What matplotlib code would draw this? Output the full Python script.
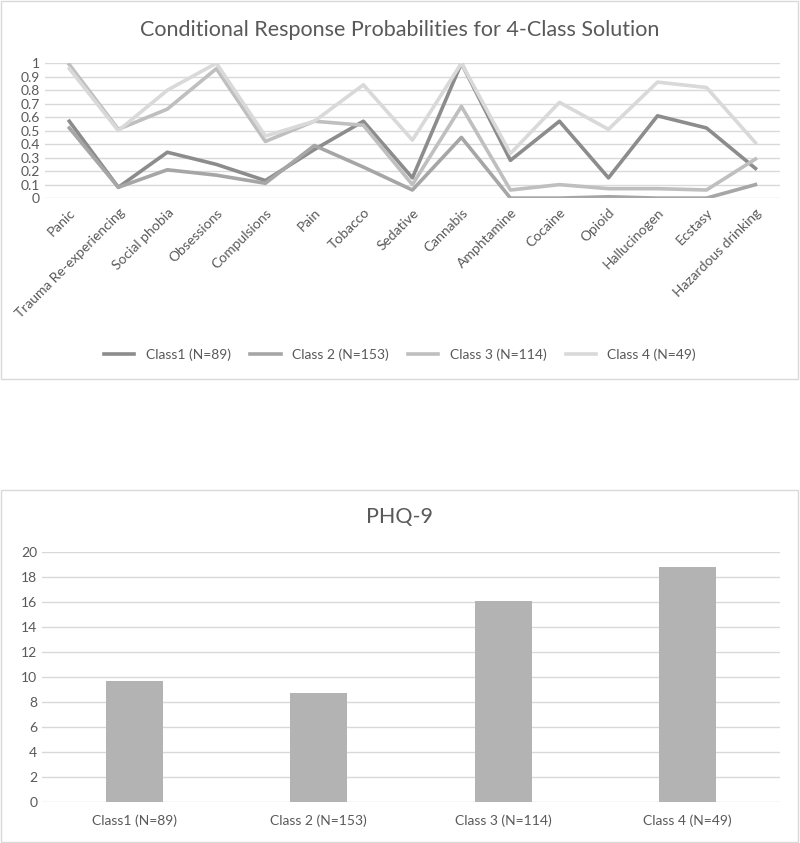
import matplotlib
matplotlib.use("Agg")
import matplotlib.pyplot as plt
from matplotlib.patches import Rectangle

plt.rcParams['font.family'] = ['Lato', 'DejaVu Sans']

items = ['Panic', 'Trauma Re-experiencing', 'Social phobia', 'Obsessions', 'Compulsions',
         'Pain', 'Tobacco', 'Sedative', 'Cannabis', 'Amphtamine', 'Cocaine', 'Opioid',
         'Hallucinogen', 'Ecstasy', 'Hazardous drinking']

class_names = ['Class1 (N=89)', 'Class 2 (N=153)', 'Class 3 (N=114)', 'Class 4 (N=49)']

class1 = [0.57, 0.08, 0.34, 0.25, 0.13, 0.36, 0.57, 0.15, 1.00, 0.28, 0.57, 0.15, 0.61, 0.52, 0.22]
class2 = [0.52, 0.08, 0.21, 0.17, 0.11, 0.39, 0.23, 0.06, 0.45, 0.00, 0.00, 0.01, 0.00, 0.00, 0.10]
class3 = [0.99, 0.51, 0.66, 0.96, 0.42, 0.57, 0.54, 0.10, 0.68, 0.06, 0.10, 0.07, 0.07, 0.06, 0.29]
class4 = [0.96, 0.50, 0.80, 1.00, 0.46, 0.57, 0.84, 0.43, 1.00, 0.33, 0.71, 0.51, 0.86, 0.82, 0.41]

phq9 = [9.7, 8.7, 16.1, 18.8]

line_colors = ['#8c8c8c', '#a6a6a6', '#bfbfbf', '#d9d9d9']
text_col = '#595959'
grid_col = '#d9d9d9'

fig = plt.figure(figsize=(8, 8.43), dpi=100)

# chart frames
fig.patches.append(Rectangle((0.001, 1 - 379 / 843), 0.997, 378 / 843, transform=fig.transFigure,
                             fill=False, edgecolor='#d9d9d9', lw=1))
fig.patches.append(Rectangle((0.001, 0.001), 0.997, 352 / 843, transform=fig.transFigure,
                             fill=False, edgecolor='#d9d9d9', lw=1))

# ---- line chart ----
ax1 = fig.add_axes([0.056, 0.765, 0.919, 0.160])
x = range(len(items))
for vals, name, col in zip([class1, class2, class3, class4], class_names, line_colors):
    ax1.plot(x, vals, color=col, lw=2.6, label=name)
ax1.set_xlim(-0.5, len(items) - 0.5)
ax1.set_ylim(0, 1)
ax1.set_yticks([i / 10 for i in range(11)])
ax1.set_yticklabels(['0', '0.1', '0.2', '0.3', '0.4', '0.5', '0.6', '0.7', '0.8', '0.9', '1'])
ax1.set_xticks(list(x))
ax1.set_xticklabels(items, rotation=45, ha='right', rotation_mode='anchor')
ax1.grid(axis='y', color=grid_col, lw=1)
ax1.set_axisbelow(True)
for s in ax1.spines.values():
    s.set_visible(False)
ax1.tick_params(length=0, colors=text_col, labelsize=10)
ax1.tick_params(axis='x', pad=6)
fig.text(0.5, 0.964, 'Conditional Response Probabilities for 4-Class Solution',
         ha='center', va='center', fontsize=15.5, color=text_col)
fig.legend(loc='center', bbox_to_anchor=(0.5, 1 - 355 / 843), ncol=4, frameon=False,
           fontsize=10, handlelength=2.2, columnspacing=1.4, labelcolor=text_col)

# ---- bar chart ----
ax2 = fig.add_axes([0.0525, 0.0486, 0.9225, 0.2964])
ax2.bar(range(len(class_names)), phq9, width=0.31, color='#b3b3b3')
ax2.set_xlim(-0.5, len(class_names) - 0.5)
ax2.set_ylim(0, 20)
ax2.set_yticks(range(0, 21, 2))
ax2.set_xticks(range(len(class_names)))
ax2.set_xticklabels(class_names)
ax2.grid(axis='y', color=grid_col, lw=1)
ax2.set_axisbelow(True)
for s in ax2.spines.values():
    s.set_visible(False)
ax2.tick_params(length=0, colors=text_col, labelsize=10)
ax2.tick_params(axis='x', pad=9)
fig.text(0.5, 1 - 517 / 843, 'PHQ-9', ha='center', va='center', fontsize=15.5, color=text_col)

fig.savefig('out.png', dpi=100)
